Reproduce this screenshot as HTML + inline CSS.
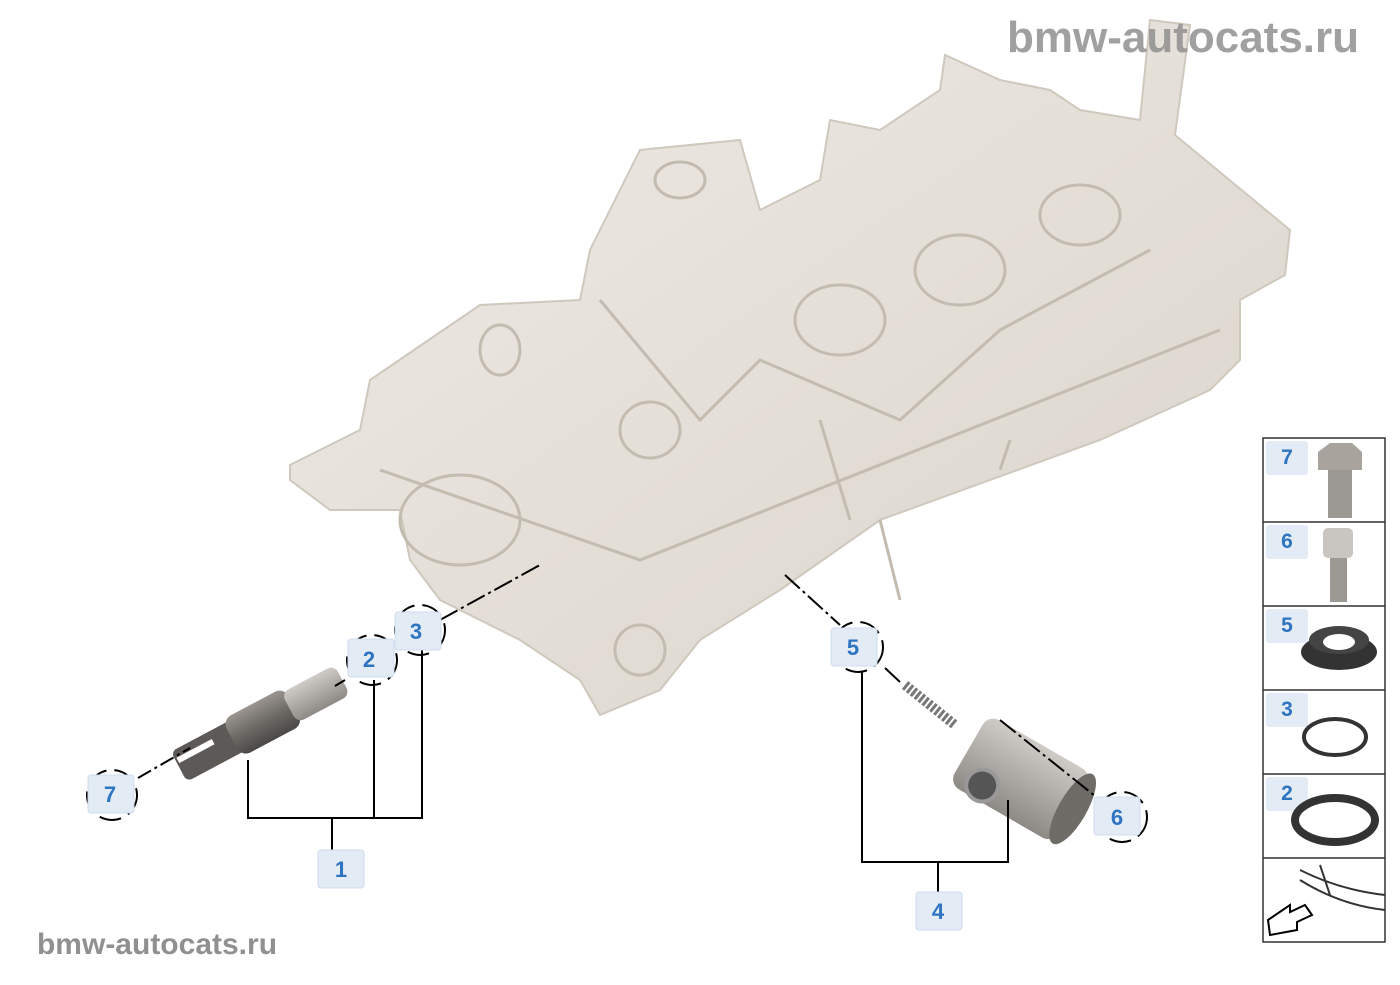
<!DOCTYPE html>
<html><head><meta charset="utf-8"><style>
body{margin:0;background:#fff;width:1400px;height:980px;overflow:hidden;font-family:"Liberation Sans",sans-serif}
</style></head><body>
<svg width="1400" height="980" viewBox="0 0 1400 980" xmlns="http://www.w3.org/2000/svg">
<defs>
<linearGradient id="g1" x1="0" y1="0" x2="1" y2="1"><stop offset="0" stop-color="#efebe5"/><stop offset="1" stop-color="#d9d3ca"/></linearGradient>
<linearGradient id="gm" x1="0" y1="0" x2="0" y2="1"><stop offset="0" stop-color="#9a958f"/><stop offset="0.5" stop-color="#6d6a66"/><stop offset="1" stop-color="#4a4846"/></linearGradient>
<linearGradient id="gs" x1="0" y1="0" x2="0" y2="1"><stop offset="0" stop-color="#cfcbc6"/><stop offset="1" stop-color="#8d8984"/></linearGradient>
</defs>
<polygon fill="url(#g1)" stroke="#cfc8bd" stroke-width="2" points="290,465 360,430 370,380 480,305 580,300 590,250 640,150 740,140 760,210 820,180 830,120 880,130 940,90 945,55 1000,80 1050,90 1080,110 1140,120 1150,20 1190,25 1175,135 1290,230 1285,275 1240,300 1240,360 1210,390 1100,440 880,520 780,590 700,640 660,690 600,715 580,680 520,640 440,600 410,560 400,510 330,510 290,480"/>
<g fill="none" stroke="#c4bcb0" stroke-width="3">
<path d="M380,470 L640,560 L1220,330"/>
<path d="M600,300 L700,420 L760,360 L900,420 L1000,330 L1150,250"/>
<ellipse cx="460" cy="520" rx="60" ry="45"/>
<ellipse cx="640" cy="650" rx="25" ry="25"/>
<ellipse cx="500" cy="350" rx="20" ry="25"/>
<ellipse cx="650" cy="430" rx="30" ry="28"/>
<ellipse cx="840" cy="320" rx="45" ry="35"/>
<ellipse cx="960" cy="270" rx="45" ry="35"/>
<ellipse cx="1080" cy="215" rx="40" ry="30"/>
<ellipse cx="680" cy="180" rx="25" ry="18"/>
<path d="M880,520 L900,600 M1000,470 L1010,440 M820,420 L850,520"/>
</g>
<g transform="rotate(-28 250 730)">
<rect x="170" y="712" width="70" height="34" rx="6" fill="#5c5956"/>
<rect x="230" y="708" width="70" height="42" rx="10" fill="url(#gm)"/>
<rect x="295" y="712" width="60" height="34" rx="8" fill="url(#gs)"/>
<rect x="172" y="720" width="40" height="6" fill="#fff"/>
</g>
<line x1="905" y1="685" x2="955" y2="725" stroke="#777" stroke-width="10" stroke-dasharray="3,2"/>
<g transform="rotate(30 1020 790)">
<rect x="955" y="740" width="120" height="80" rx="12" fill="url(#gs)"/>
<ellipse cx="1075" cy="780" rx="14" ry="40" fill="#6f6b67"/>
<circle cx="985" cy="805" r="16" fill="#555" stroke="#999" stroke-width="4"/>
</g>
<g stroke="#000" stroke-width="2" fill="none">
<polyline points="248,760 248,818 422,818 422,650"/>
<line x1="374" y1="818" x2="374" y2="680"/>
<line x1="332" y1="818" x2="332" y2="855"/>
<polyline points="862,672 862,862 1008,862 1008,800"/>
<line x1="938" y1="862" x2="938" y2="895"/>
<path d="M440,620 L540,565" stroke-dasharray="20,4,3,4"/>
<path d="M345,680 L335,686"/>
<path d="M138,778 L190,748" stroke-dasharray="15,4,3,4"/>
<path d="M785,575 L840,625" stroke-dasharray="20,4,3,4"/>
<path d="M885,668 L900,682"/>
<path d="M1000,720 L1100,800" stroke-dasharray="20,4,3,4"/>
</g>
<g stroke="#000" stroke-width="2" fill="none" stroke-dasharray="22,8">
<circle cx="112" cy="795" r="25"/>
<circle cx="372" cy="660" r="25"/>
<circle cx="420" cy="630" r="25"/>
<circle cx="858" cy="647" r="25"/>
<circle cx="1122" cy="817" r="25"/>
</g>
<g font-weight="bold" font-size="22" fill="#2e74c0" text-anchor="middle">
<rect x="88" y="775" width="46" height="38" rx="3" fill="#e3ebf5" stroke="#cfdced"/><text x="110" y="802">7</text>
<rect x="348" y="639" width="46" height="38" rx="3" fill="#e3ebf5" stroke="#cfdced"/><text x="369" y="667">2</text>
<rect x="395" y="612" width="46" height="38" rx="3" fill="#e3ebf5" stroke="#cfdced"/><text x="416" y="639">3</text>
<rect x="318" y="850" width="46" height="38" rx="3" fill="#e3ebf5" stroke="#cfdced"/><text x="341" y="877">1</text>
<rect x="831" y="628" width="46" height="38" rx="3" fill="#e3ebf5" stroke="#cfdced"/><text x="853" y="655">5</text>
<rect x="1094" y="797" width="46" height="38" rx="3" fill="#e3ebf5" stroke="#cfdced"/><text x="1117" y="825">6</text>
<rect x="916" y="892" width="46" height="38" rx="3" fill="#e3ebf5" stroke="#cfdced"/><text x="938" y="919">4</text>
</g>
<g stroke="#333" stroke-width="1.5" fill="#fff">
<rect x="1263" y="438" width="122" height="504"/>
<line x1="1263" y1="522" x2="1385" y2="522"/><line x1="1263" y1="606" x2="1385" y2="606"/>
<line x1="1263" y1="690" x2="1385" y2="690"/><line x1="1263" y1="774" x2="1385" y2="774"/>
<line x1="1263" y1="858" x2="1385" y2="858"/>
</g>
<g font-weight="bold" font-size="21" fill="#2e74c0" text-anchor="middle">
<rect x="1266" y="441" width="42" height="34" rx="3" fill="#e3ebf5"/><text x="1287" y="464">7</text>
<rect x="1266" y="525" width="42" height="34" rx="3" fill="#e3ebf5"/><text x="1287" y="548">6</text>
<rect x="1266" y="609" width="42" height="34" rx="3" fill="#e3ebf5"/><text x="1287" y="632">5</text>
<rect x="1266" y="693" width="42" height="34" rx="3" fill="#e3ebf5"/><text x="1287" y="716">3</text>
<rect x="1266" y="777" width="42" height="34" rx="3" fill="#e3ebf5"/><text x="1287" y="800">2</text>
</g>
<polygon points="1318,452 1330,443 1352,443 1362,452 1362,470 1318,470" fill="#a8a39d"/>
<rect x="1328" y="470" width="24" height="48" fill="#9c9893"/>
<rect x="1323" y="528" width="30" height="30" rx="5" fill="#c9c5c0"/>
<rect x="1330" y="558" width="17" height="44" fill="#9c9893"/>
<ellipse cx="1339" cy="652" rx="38" ry="18" fill="#333"/>
<ellipse cx="1339" cy="640" rx="30" ry="14" fill="#444"/>
<ellipse cx="1339" cy="642" rx="16" ry="8" fill="#fff"/>
<ellipse cx="1335" cy="737" rx="31" ry="18" fill="none" stroke="#333" stroke-width="4"/>
<ellipse cx="1335" cy="820" rx="40" ry="22" fill="none" stroke="#333" stroke-width="8"/>
<path d="M1300,870 Q1340,890 1385,895 M1300,880 Q1340,905 1385,910 M1320,865 L1330,895" stroke="#333" fill="none" stroke-width="2"/>
<polygon points="1268,920 1290,905 1290,912 1305,905 1312,915 1297,922 1297,930 1270,935" fill="#fff" stroke="#000" stroke-width="2"/>
<text x="1183" y="52" font-size="44" font-weight="bold" fill="#909090" text-anchor="middle" opacity="0.85">bmw-autocats.ru</text>
<text x="157" y="954" font-size="30" font-weight="bold" fill="#909090" text-anchor="middle">bmw-autocats.ru</text>
</svg>
</body></html>
